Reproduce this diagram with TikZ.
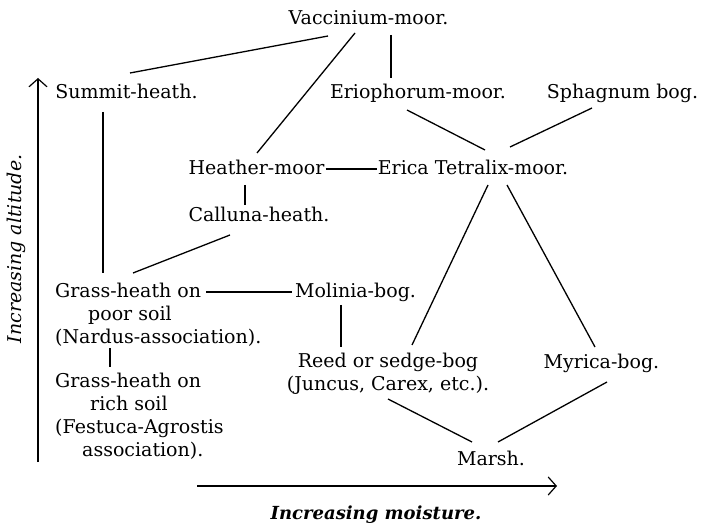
\documentclass[tikz,border=0pt]{standalone}
\usepackage{fontspec}
\setmainfont{DejaVu Serif}
\usetikzlibrary{calc,arrows.meta}
\begin{document}
\begin{tikzpicture}[x=1pt,y=-1pt,
  lbl/.style={inner sep=0pt, font=\fontsize{19}{23}\selectfont},
  link/.style={line width=1.3pt},
  axis/.style={line width=1.2pt, -{Straight Barb[length=8pt,width=18pt,line width=1.2pt]}},
  axlbl/.style={inner sep=0pt, font=\fontsize{19}{23}\selectfont\itshape}]
\useasboundingbox[fill=white] (0,0) rectangle (704,529);
% nodes (multi-line nodes: base = baseline of last line)
\node[lbl,anchor=base] (vacc) at (368.5,25) {Vaccinium-moor.};
\node[lbl,anchor=base] (summit) at (126.5,99) {Summit-heath.};
\node[lbl,anchor=base] (erio) at (418,99) {Eriophorum-moor.};
\node[lbl,anchor=base] (sphag) at (622.5,99) {Sphagnum bog.};
\node[lbl,anchor=base] (heather) at (256.5,175) {Heather-moor};
\node[lbl,anchor=base] (erica) at (473,175) {Erica Tetralix-moor.};
\node[lbl,anchor=base] (calluna) at (259,222) {Calluna-heath.};
\node[lbl,anchor=base west,align=left] (gpoor) at (55,343) {Grass-heath on\\\hspace*{33pt}poor soil\\(Nardus-association).};
\node[lbl,anchor=base west,align=left] (grich) at (55,456) {Grass-heath on\\\hspace*{35pt}rich soil\\(Festuca-Agrostis\\\hspace*{27pt}association).};
\node[lbl,anchor=base] (molinia) at (355.5,298) {Molinia-bog.};
\node[lbl,anchor=base,align=center] (reed) at (388,390) {Reed or sedge-bog\\(Juncus, Carex, etc.).};
\node[lbl,anchor=base] (myrica) at (601.5,368) {Myrica-bog.};
\node[lbl,anchor=base] (marsh) at (491,465) {Marsh.};
% connectors
\draw[link] ($(vacc.base)+(-40.5,11)$) -- ($(summit.base)+(3.5,-26)$);
\draw[link] ($(vacc.base)+(-13.5,8)$) -- ($(heather.base)+(0.5,-22)$);
\draw[link] ($(vacc.base)+(22.5,10)$) -- ($(erio.base)+(-27,-21)$);
\draw[link] ($(erio.base)+(-11,11)$) -- ($(erica.base)+(12,-25)$);
\draw[link] ($(sphag.base)+(-30.5,9)$) -- ($(erica.base)+(37,-28)$);
\draw[line width=2.2pt] ($(heather.base east)+(1,-6)$) -- ($(erica.base west)+(-1,-6)$);
\draw[link] ($(summit.base)+(-23.5,13)$) -- ($(gpoor.base west)+(48,-70)$);
\draw[link] ($(heather.base)+(-11.5,10)$) -- ($(calluna.base)+(-14,-17)$);
\draw[link] ($(calluna.base)+(-29,13)$) -- ($(gpoor.base west)+(78,-70)$);
\draw[link] ($(gpoor.base west)+(151,-51)$) -- ($(molinia.base)+(-63.5,-6)$);
\draw[link] ($(gpoor.base west)+(55,5)$) -- ($(grich.base west)+(55,-89)$);
\draw[link] ($(molinia.base)+(-14.5,7)$) -- ($(reed.base)+(-47,-43)$);
\draw[link] ($(erica.base)+(15,10)$) -- ($(reed.base)+(24,-45)$);
\draw[link] ($(erica.base)+(34,10)$) -- ($(myrica.base)+(-6.5,-21)$);
\draw[link] ($(reed.base)+(0,9)$) -- ($(marsh.base)+(-19,-23)$);
\draw[link] ($(myrica.base)+(5.5,14)$) -- ($(marsh.base)+(7,-23)$);
% axes
\coordinate (ybot) at (38,462);
\coordinate (ytop) at (38,78);
\coordinate (xleft) at (197,486);
\coordinate (xright) at (557,486);
\draw[axis] (ybot) -- (ytop);
\draw[axis] (xleft) -- (xright);
\node[axlbl,rotate=90] (ylab) at (16,249) {Increasing altitude.};
\node[axlbl,font=\fontsize{18}{22}\selectfont\bfseries\itshape] (xlab) at (376,515) {Increasing moisture.};
\end{tikzpicture}
\end{document}
